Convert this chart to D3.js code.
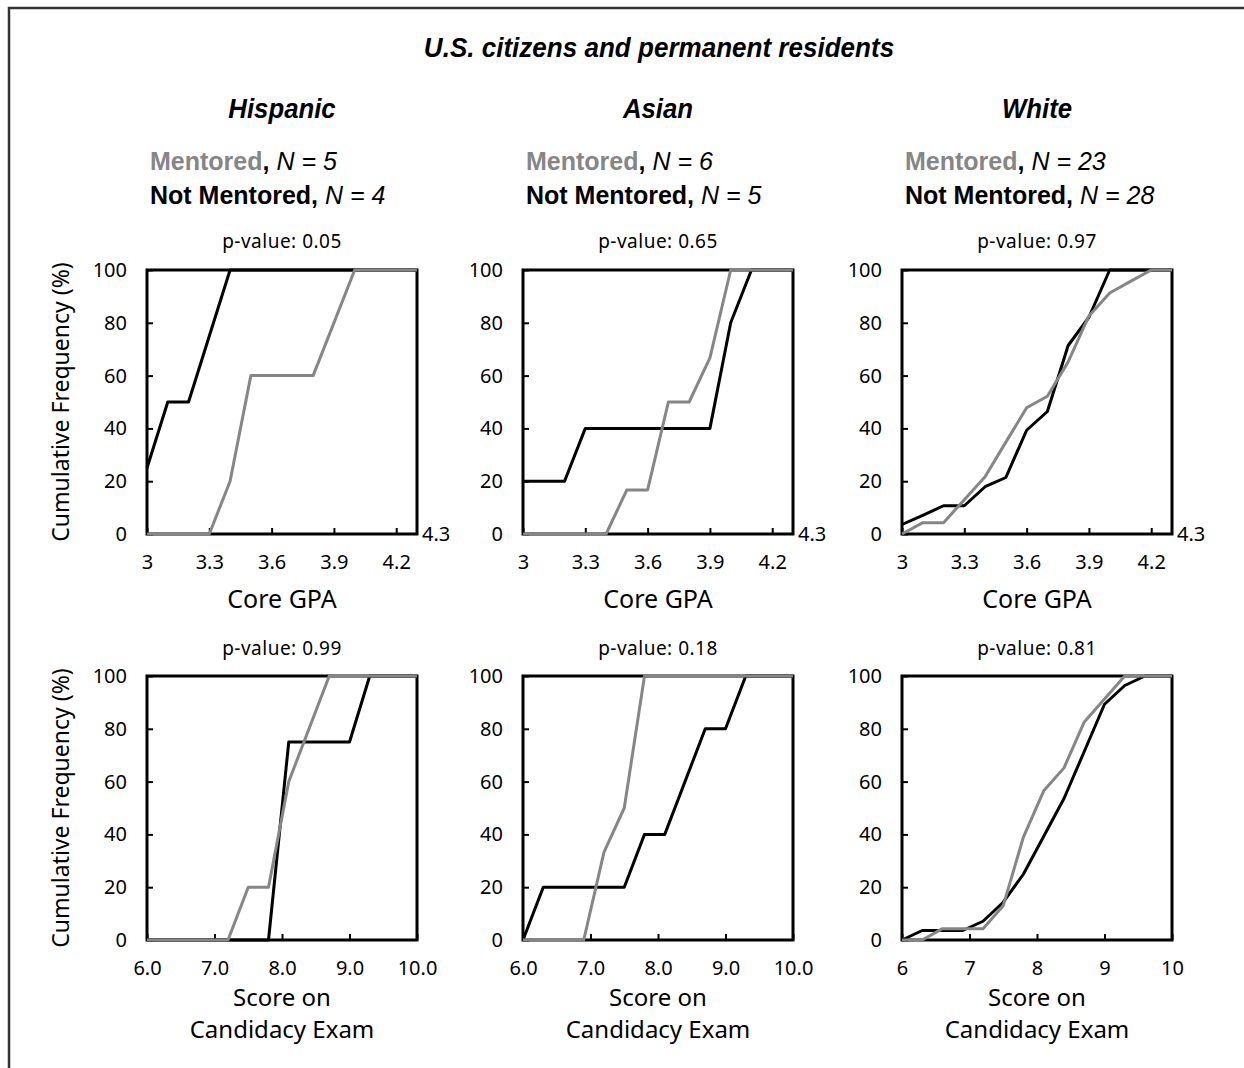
<!DOCTYPE html>
<html>
<head>
<meta charset="UTF-8" />
<script src="https://cdn.jsdelivr.net/npm/d3@7"></script>
<title>Cumulative frequency, mentored vs not mentored</title>
<style>
    body { margin: 0; background: white; }
    svg { display: block; }
    .tick text { font-family: "Noto Sans", sans-serif; font-size: 20px; fill: #000; }
    .tick line { stroke: #000; stroke-width: 2; }
    .lbl { font-family: "Noto Sans", sans-serif; fill: #000; }
    .cond { font-family: "Liberation Sans", Arial, sans-serif; fill: #000; }
</style>
</head>
<body>
<div id="chart"></div>
<script>
// header text
const mainTitle = "U.S. citizens and permanent residents";
const groups = ["Hispanic", "Asian", "White"];
const nMentored = [5, 6, 23];
const nNotMentored = [4, 5, 28];
const pGpa = ["0.05", "0.65", "0.97"];
const pExam = ["0.99", "0.18", "0.81"];

// tick values
const yTicks = [0, 20, 40, 60, 80, 100];
const gpaTicks = [3, 3.3, 3.6, 3.9, 4.2];
const examTicks = [6, 7, 8, 9, 10];

// Core GPA - Hispanic
const hispGpaMentX = [3.0, 3.3, 3.4, 3.5, 3.8, 4.0, 4.3];
const hispGpaMentY = [0, 0, 20, 60, 60, 100, 100];
const hispGpaNotX = [3.0, 3.1, 3.2, 3.4, 4.3];
const hispGpaNotY = [25, 50, 50, 100, 100];
// Core GPA - Asian
const asianGpaMentX = [3.0, 3.4, 3.5, 3.6, 3.7, 3.8, 3.9, 4.0, 4.3];
const asianGpaMentY = [0, 0, 16.7, 16.7, 50, 50, 66.7, 100, 100];
const asianGpaNotX = [3.0, 3.2, 3.3, 3.9, 4.0, 4.1, 4.3];
const asianGpaNotY = [20, 20, 40, 40, 80, 100, 100];
// Core GPA - White
const whiteGpaMentX = [3.0, 3.1, 3.2, 3.3, 3.4, 3.5, 3.6, 3.7, 3.8, 3.9, 4.0, 4.1, 4.2, 4.3];
const whiteGpaMentY = [0, 4.3, 4.3, 13.0, 21.7, 34.8, 47.8, 52.2, 65.2, 82.6, 91.3, 95.7, 100, 100];
const whiteGpaNotX = [3.0, 3.1, 3.2, 3.3, 3.4, 3.5, 3.6, 3.7, 3.8, 3.9, 4.0, 4.3];
const whiteGpaNotY = [3.6, 7.1, 10.7, 10.7, 17.9, 21.4, 39.3, 46.4, 71.4, 82.1, 100, 100];

// Candidacy exam - Hispanic
const hispExamMentX = [6.0, 7.2, 7.5, 7.8, 8.1, 8.7, 10.0];
const hispExamMentY = [0, 0, 20, 20, 60, 100, 100];
const hispExamNotX = [6.0, 7.8, 8.1, 9.0, 9.3, 10.0];
const hispExamNotY = [0, 0, 75, 75, 100, 100];
// Candidacy exam - Asian
const asianExamMentX = [6.0, 6.9, 7.2, 7.5, 7.8, 10.0];
const asianExamMentY = [0, 0, 33.3, 50, 100, 100];
const asianExamNotX = [6.0, 6.3, 7.5, 7.8, 8.1, 8.7, 9.0, 9.3, 10.0];
const asianExamNotY = [0, 20, 20, 40, 40, 80, 80, 100, 100];
// Candidacy exam - White
const whiteExamMentX = [6.0, 6.3, 6.6, 6.9, 7.2, 7.5, 7.8, 8.1, 8.4, 8.7, 9.0, 9.3, 10.0];
const whiteExamMentY = [0, 0, 4.3, 4.3, 4.3, 13.0, 39.1, 56.5, 65.2, 82.6, 91.3, 100, 100];
const whiteExamNotX = [6.0, 6.3, 6.6, 6.9, 7.2, 7.5, 7.8, 8.1, 8.4, 8.7, 9.0, 9.3, 9.6, 10.0];
const whiteExamNotY = [0, 3.6, 3.6, 3.6, 7.1, 14.3, 25.0, 39.3, 53.6, 71.4, 89.3, 96.4, 100, 100];

const w = 1244, h = 1068;
const colLeft = [147, 523, 902];
const rowTop = [270, 676];
const pw = 270, ph = 264;
const grey = "#868686";

const zip = (xs, ys) => xs.map((x, i) => [x, ys[i]]);

// squeeze a text horizontally, to look like a condensed face
function condense(sel, k) {
    const len = sel.node().getComputedTextLength();
    sel.attr("textLength", len * k).attr("lengthAdjust", "spacingAndGlyphs");
}

const panels = [
    {row: 0, col: 0, ment: zip(hispGpaMentX, hispGpaMentY), not: zip(hispGpaNotX, hispGpaNotY), p: pGpa[0]},
    {row: 0, col: 1, ment: zip(asianGpaMentX, asianGpaMentY), not: zip(asianGpaNotX, asianGpaNotY), p: pGpa[1]},
    {row: 0, col: 2, ment: zip(whiteGpaMentX, whiteGpaMentY), not: zip(whiteGpaNotX, whiteGpaNotY), p: pGpa[2]},
    {row: 1, col: 0, ment: zip(hispExamMentX, hispExamMentY), not: zip(hispExamNotX, hispExamNotY), p: pExam[0]},
    {row: 1, col: 1, ment: zip(asianExamMentX, asianExamMentY), not: zip(asianExamNotX, asianExamNotY), p: pExam[1]},
    {row: 1, col: 2, ment: zip(whiteExamMentX, whiteExamMentY), not: zip(whiteExamNotX, whiteExamNotY), p: pExam[2]}
];

const svg = d3.select("#chart").append("svg")
    .attr("width", w)
    .attr("height", h);

// outer frame (runs off the right and bottom edges)
svg.append("path")
    .attr("d", `M9,${h + 5} L9,8 L${w + 5},8`)
    .attr("fill", "none")
    .attr("stroke", "#333")
    .attr("stroke-width", 2.5);

const title = svg.append("text")
    .attr("class", "cond")
    .attr("x", 659).attr("y", 57)
    .attr("text-anchor", "middle")
    .attr("font-size", 28)
    .attr("font-weight", "bold")
    .attr("font-style", "italic")
    .text(mainTitle);
condense(title, 0.93);

groups.forEach((g, i) => {
    const cx = colLeft[i] + pw / 2;
    const gt = svg.append("text")
        .attr("class", "cond")
        .attr("x", cx).attr("y", 118)
        .attr("text-anchor", "middle")
        .attr("font-size", 28)
        .attr("font-weight", "bold")
        .attr("font-style", "italic")
        .text(g);
    condense(gt, 0.92);

    const l1 = svg.append("text").attr("class", "cond")
        .attr("x", colLeft[i] + 3).attr("y", 170).attr("font-size", 25);
    l1.append("tspan").attr("font-weight", "bold").attr("fill", grey).text("Mentored");
    l1.append("tspan").attr("font-weight", "bold").text(",");
    l1.append("tspan").attr("font-style", "italic").text(" N = " + nMentored[i]);

    const l2 = svg.append("text").attr("class", "cond")
        .attr("x", colLeft[i] + 3).attr("y", 204).attr("font-size", 25);
    l2.append("tspan").attr("font-weight", "bold").text("Not Mentored,");
    l2.append("tspan").attr("font-style", "italic").text(" N = " + nNotMentored[i]);
});

panels.forEach(p => {
    const x0 = colLeft[p.col], y0 = rowTop[p.row];
    const isGpa = p.row === 0;
    const g = svg.append("g").attr("transform", `translate(${x0},${y0})`);

    const xScale = d3.scaleLinear()
        .domain(isGpa ? [3, 4.3] : [6, 10])
        .range([0, pw]);
    const yScale = d3.scaleLinear()
        .domain([0, 100])
        .range([ph, 0]);

    let fmt;
    if (isGpa) fmt = d3.format("");
    else if (p.col === 2) fmt = d3.format("d");
    else fmt = d3.format(".1f");

    const xAxis = d3.axisBottom(xScale)
        .tickValues(isGpa ? gpaTicks : examTicks)
        .tickFormat(fmt)
        .tickSize(-6)
        .tickSizeOuter(0)
        .tickPadding(21);
    const yAxis = d3.axisLeft(yScale)
        .tickValues(yTicks)
        .tickSize(-6)
        .tickSizeOuter(0)
        .tickPadding(20);

    g.append("g").attr("transform", `translate(0,${ph})`).call(xAxis)
        .call(a => a.select(".domain").remove());
    g.append("g").call(yAxis)
        .call(a => a.select(".domain").remove());

    // plot frame
    g.append("rect")
        .attr("width", pw).attr("height", ph)
        .attr("fill", "none")
        .attr("stroke", "#000")
        .attr("stroke-width", 3);

    if (isGpa) {
        g.append("text").attr("class", "lbl")
            .attr("x", pw + 5).attr("y", ph)
            .attr("dy", "0.35em")
            .attr("font-size", 20)
            .text("4.3");
    }

    const line = d3.line()
        .x(d => xScale(d[0]))
        .y(d => yScale(d[1]));

    g.append("path").datum(p.not)
        .attr("d", line)
        .attr("fill", "none")
        .attr("stroke", "#000")
        .attr("stroke-width", 3)
        .attr("stroke-linejoin", "round");
    g.append("path").datum(p.ment)
        .attr("d", line)
        .attr("fill", "none")
        .attr("stroke", grey)
        .attr("stroke-width", 3)
        .attr("stroke-linejoin", "round");

    g.append("text").attr("class", "lbl")
        .attr("x", pw / 2).attr("y", isGpa ? -22 : -21)
        .attr("text-anchor", "middle")
        .attr("font-size", 19)
        .attr("letter-spacing", 0.5)
        .text("p-value: " + p.p);

    if (isGpa) {
        g.append("text").attr("class", "lbl")
            .attr("x", pw / 2).attr("y", ph + 74)
            .attr("text-anchor", "middle")
            .attr("font-size", 25)
            .text("Core GPA");
    } else {
        g.append("text").attr("class", "lbl")
            .attr("x", pw / 2).attr("y", ph + 66)
            .attr("text-anchor", "middle")
            .attr("font-size", 24)
            .text("Score on");
        g.append("text").attr("class", "lbl")
            .attr("x", pw / 2).attr("y", ph + 98)
            .attr("text-anchor", "middle")
            .attr("font-size", 24)
            .text("Candidacy Exam");
    }

    if (p.col === 0) {
        g.append("text").attr("class", "lbl")
            .attr("transform", `translate(-78,${ph / 2}) rotate(-90)`)
            .attr("text-anchor", "middle")
            .attr("font-size", 23)
            .text("Cumulative Frequency (%)");
    }
});
</script>
</body>
</html>
